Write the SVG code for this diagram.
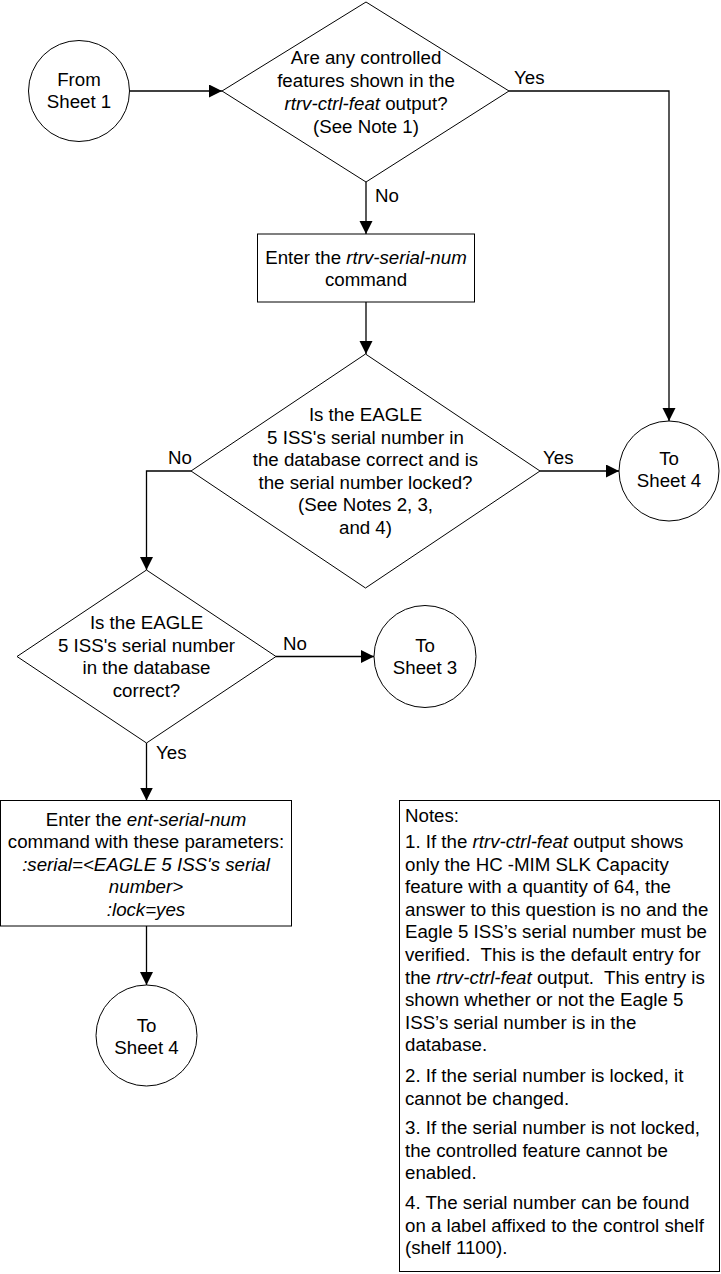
<svg xmlns="http://www.w3.org/2000/svg" width="721" height="1274" viewBox="0 0 721 1274">
<style>
  text { font-family: "Liberation Sans", Arial, sans-serif; font-size: 18.7px; fill: #000; }
  .c { text-anchor: middle; }
  .i { font-style: italic; }
  .shape { fill: #fff; stroke: #000; stroke-width: 1; }
  .conn { fill: none; stroke: #000; stroke-width: 1.3; }
  .note { white-space: pre; }
</style>
<defs>
  <marker id="arr" markerUnits="userSpaceOnUse" markerWidth="14" markerHeight="14" refX="13" refY="6.5" orient="auto">
    <path d="M0,0 L13,6.5 L0,13 z" fill="#000"/>
  </marker>
</defs>
<rect width="721" height="1274" fill="#fff"/>

<g id="connectors">
  <path class="conn" d="M129.5,91 L222,91" marker-end="url(#arr)"/>
  <path class="conn" d="M509,91 L669,91 L669,421" marker-end="url(#arr)"/>
  <path class="conn" d="M366,182 L366,234" marker-end="url(#arr)"/>
  <path class="conn" d="M366,302 L366,354" marker-end="url(#arr)"/>
  <path class="conn" d="M191,471 L146.5,471 L146.5,570" marker-end="url(#arr)"/>
  <path class="conn" d="M540,471 L619,471" marker-end="url(#arr)"/>
  <path class="conn" d="M276,656.5 L374,656.5" marker-end="url(#arr)"/>
  <path class="conn" d="M146.5,743 L146.5,800.5" marker-end="url(#arr)"/>
  <path class="conn" d="M146.5,926 L146.5,985" marker-end="url(#arr)"/>
  <text x="514" y="84">Yes</text>
  <text x="375" y="202">No</text>
  <text x="168" y="464">No</text>
  <text x="543" y="464">Yes</text>
  <text x="283" y="650">No</text>
  <text x="156" y="759">Yes</text>
</g>

<g id="from-sheet-1">
  <circle class="shape" cx="79" cy="91" r="50.5"/>
  <text class="c" x="79" y="86">From</text>
  <text class="c" x="79" y="108">Sheet 1</text>
</g>

<g id="decision-controlled-features">
  <polygon class="shape" points="366,2 509,91 366,182 222,91"/>
  <text class="c" x="366" y="63.5">Are any controlled</text>
  <text class="c" x="366" y="86.5">features shown in the</text>
  <text class="c" x="366" y="109.5"><tspan class="i">rtrv-ctrl-feat</tspan> output?</text>
  <text class="c" x="366" y="132.5">(See Note 1)</text>
</g>

<g id="rtrv-serial-num">
  <rect class="shape" x="257.5" y="234" width="217" height="68"/>
  <text class="c" x="366" y="263.5">Enter the <tspan class="i">rtrv-serial-num</tspan></text>
  <text class="c" x="366" y="286">command</text>
</g>

<g id="decision-serial-locked">
  <polygon class="shape" points="365.5,354 540,471 365.5,588 191,471"/>
  <text class="c" x="365.5" y="421">Is the EAGLE</text>
  <text class="c" x="365.5" y="443.5">5 ISS's serial number in</text>
  <text class="c" x="365.5" y="466">the database correct and is</text>
  <text class="c" x="365.5" y="488.5">the serial number locked?</text>
  <text class="c" x="365.5" y="511">(See Notes 2, 3,</text>
  <text class="c" x="365.5" y="533.5">and 4)</text>
</g>

<g id="to-sheet-4-right">
  <circle class="shape" cx="669" cy="471" r="50"/>
  <text class="c" x="669" y="465">To</text>
  <text class="c" x="669" y="487">Sheet 4</text>
</g>

<g id="decision-serial-correct">
  <polygon class="shape" points="146.5,570 276,656.5 146.5,743 17,656.5"/>
  <text class="c" x="146.5" y="629">Is the EAGLE</text>
  <text class="c" x="146.5" y="651.5">5 ISS's serial number</text>
  <text class="c" x="146.5" y="674">in the database</text>
  <text class="c" x="146.5" y="696.5">correct?</text>
</g>

<g id="to-sheet-3">
  <circle class="shape" cx="425" cy="656.5" r="51"/>
  <text class="c" x="425" y="652">To</text>
  <text class="c" x="425" y="673.5">Sheet 3</text>
</g>

<g id="ent-serial-num">
  <rect class="shape" x="0.5" y="800.5" width="291" height="125.5"/>
  <text class="c" x="146" y="825.5">Enter the <tspan class="i">ent-serial-num</tspan></text>
  <text class="c" x="146" y="848">command with these parameters:</text>
  <text class="c i" x="146" y="870.5">:serial=&lt;EAGLE 5 ISS's serial</text>
  <text class="c i" x="146" y="893">number&gt;</text>
  <text class="c i" x="146" y="915.5">:lock=yes</text>
</g>

<g id="to-sheet-4-bottom">
  <circle class="shape" cx="146.5" cy="1035.5" r="50.5"/>
  <text class="c" x="146.5" y="1032">To</text>
  <text class="c" x="146.5" y="1053.5">Sheet 4</text>
</g>

<g id="notes">
  <rect class="shape" x="399.5" y="800.5" width="320" height="471"/>
  <text class="note" x="405" y="822">Notes:</text>
  <text class="note" x="405" y="848">1. If the <tspan class="i">rtrv-ctrl-feat</tspan> output shows</text>
  <text class="note" x="405" y="870.6">only the HC -MIM SLK Capacity</text>
  <text class="note" x="405" y="893.2">feature with a quantity of 64, the</text>
  <text class="note" x="405" y="915.8">answer to this question is no and the</text>
  <text class="note" x="405" y="938.4">Eagle 5 ISS’s serial number must be</text>
  <text class="note" x="405" y="961">verified.  This is the default entry for</text>
  <text class="note" x="405" y="983.6">the <tspan class="i">rtrv-ctrl-feat</tspan> output.  This entry is</text>
  <text class="note" x="405" y="1006.2">shown whether or not the Eagle 5</text>
  <text class="note" x="405" y="1028.8">ISS’s serial number is in the</text>
  <text class="note" x="405" y="1051.4">database.</text>
  <text class="note" x="405" y="1082">2. If the serial number is locked, it</text>
  <text class="note" x="405" y="1104.5">cannot be changed.</text>
  <text class="note" x="405" y="1134">3. If the serial number is not locked,</text>
  <text class="note" x="405" y="1156.5">the controlled feature cannot be</text>
  <text class="note" x="405" y="1179">enabled.</text>
  <text class="note" x="405" y="1209">4. The serial number can be found</text>
  <text class="note" x="405" y="1231.5">on a label affixed to the control shelf</text>
  <text class="note" x="405" y="1254">(shelf 1100).</text>
</g>
</svg>
